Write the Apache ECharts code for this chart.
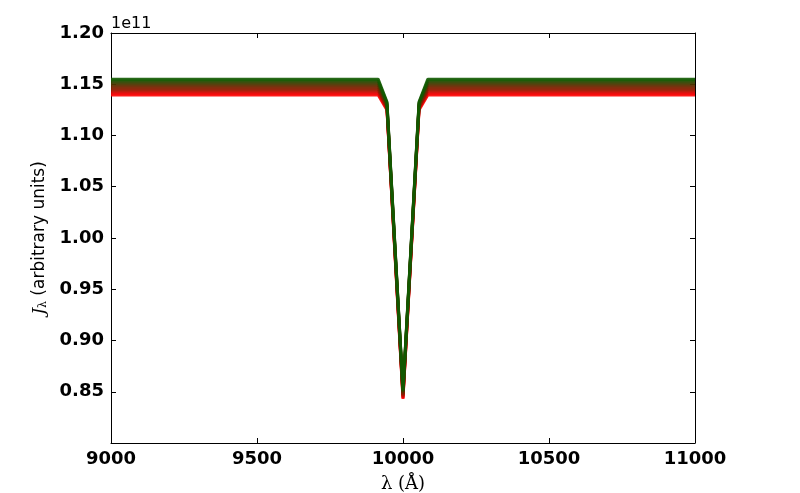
<!DOCTYPE html>
<html>
<head>
<meta charset="utf-8">
<script src="https://cdn.jsdelivr.net/npm/echarts@6/dist/echarts.min.js"></script>
<style>
  html, body { margin: 0; padding: 0; background: #fff; }
  #chart { width: 800px; height: 493px; }
</style>
</head>
<body>
<div id="chart"></div>
<script>
// wavelength grid (Angstrom)
const lambda = [9000, 9915, 9945, 10000, 10055, 10085, 11000]

// J_lambda in units of 1e11, one entry per curve (red -> green)
const continuum = [1.1395, 1.1414, 1.1434, 1.1453, 1.1473, 1.1492, 1.1511, 1.1531, 1.1550]
const shoulder  = [1.1250, 1.1260, 1.1270, 1.1280, 1.1290, 1.1300, 1.1310, 1.1320, 1.1330]
const lineCore  = [0.8430, 0.8441, 0.8453, 0.8464, 0.8475, 0.8486, 0.8498, 0.8509, 0.8520]

const curveColors = ['#ff0000', '#e80000', '#b81000', '#8c1c00', '#7a2400', '#5c3000', '#3e3e00', '#244c00', '#0f5a00']

const yTicks = [0.80, 0.85, 0.90, 0.95, 1.00, 1.05, 1.10, 1.15, 1.20]

const series = continuum.map(function (c, i) {
  const levels = [c, c, shoulder[i], lineCore[i], shoulder[i], c, c]
  return {
    type: 'line',
    showSymbol: false,
    silent: true,
    data: lambda.map((x, k) => [x, levels[k]]),
    lineStyle: { color: curveColors[i], width: 3, opacity: 0.9 }
  }
})

const tickFont = { fontFamily: 'DejaVu Sans', fontWeight: 'bold', fontSize: 18, color: '#000' }

const chart = echarts.init(document.getElementById('chart'), null, { renderer: 'canvas' })
chart.setOption({
  animation: false,
  grid: { left: 111, right: 105, top: 33, bottom: 50, show: false, containLabel: false, outerBoundsMode: 'none' },
  xAxis: [
    {
      type: 'value', min: 9000, max: 11000, interval: 500,
      name: 'λ (Å)', nameLocation: 'middle', nameGap: 32,
      nameTextStyle: { fontFamily: 'DejaVu Serif', fontSize: 18, color: '#000' },
      axisLine: { lineStyle: { color: '#000', width: 1 } },
      axisTick: { inside: true, length: 5, lineStyle: { color: '#000' } },
      axisLabel: Object.assign({ margin: 7, formatter: v => String(v) }, tickFont),
      splitLine: { show: false }
    },
    {
      type: 'value', position: 'top', min: 9000, max: 11000, interval: 500,
      axisLine: { show: true, lineStyle: { color: '#000', width: 1 } },
      axisTick: { inside: true, length: 5, lineStyle: { color: '#000' } },
      axisLabel: { show: false },
      splitLine: { show: false }
    }
  ],
  yAxis: [
    {
      type: 'value', min: 0.80, max: 1.20, interval: 0.05,
      name: '{j|J}{s|λ} (arbitrary units)', nameLocation: 'middle', nameGap: 62, nameRotate: 90,
      nameTextStyle: {
        fontFamily: 'DejaVu Sans', fontSize: 17, color: '#000',
        rich: {
          j: { fontFamily: 'DejaVu Serif', fontStyle: 'italic', fontSize: 17, color: '#000' },
          s: { fontFamily: 'DejaVu Serif', fontSize: 11, color: '#000', verticalAlign: 'bottom', padding: [7, 0, 0, 0] }
        }
      },
      axisLine: { show: true, lineStyle: { color: '#000', width: 1 } },
      axisTick: { inside: true, length: 5, lineStyle: { color: '#000' } },
      axisLabel: Object.assign({
        margin: 7,
        formatter: function (v) {
          const t = yTicks.find(y => Math.abs(y - v) < 1e-6)
          return t === undefined || t === 0.80 ? '' : t.toFixed(2)
        }
      }, tickFont),
      splitLine: { show: false }
    },
    {
      type: 'value', position: 'right', min: 0.80, max: 1.20, interval: 0.05,
      axisLine: { show: true, lineStyle: { color: '#000', width: 1 } },
      axisTick: { inside: true, length: 5, lineStyle: { color: '#000' } },
      axisLabel: { show: false },
      splitLine: { show: false }
    }
  ],
  graphic: [
    {
      type: 'text', left: 111, top: 16,
      style: { text: '1e11', font: '16px "DejaVu Sans"', fill: '#000' }
    }
  ],
  series: series
})
</script>
</body>
</html>
